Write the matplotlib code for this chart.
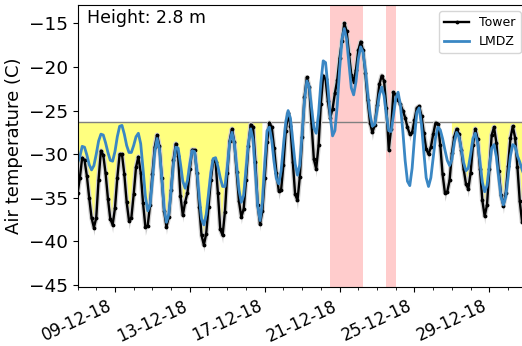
import matplotlib
matplotlib.use("Agg")
import matplotlib.pyplot as plt
import matplotlib.dates as mdates
import numpy as np
import pandas as pd

# Tower (3-hourly) and LMDZ air temperature at 2.8 m, 07-12-2018 -> 31-12-2018
times = pd.date_range("2018-12-07 00:00", "2018-12-31 00:00", freq="3h")

tower = [
    -34.5, -32.7, -30.4, -30.7, -32.5, -35.0, -37.3, -38.4,
    -37.3, -32.9, -29.6, -30.1, -32.2, -35.1, -37.4, -38.1,
    -36.2, -32.7, -30.0, -30.0, -32.3, -35.5, -37.6, -37.3,
    -34.6, -31.5, -30.3, -32.1, -35.6, -38.3, -38.2, -35.8,
    -32.3, -29.2, -27.8, -29.1, -32.7, -36.5, -38.3, -37.2,
    -34.1, -30.7, -28.8, -30.2, -34.8, -37.0, -35.5, -34.4,
    -31.7, -29.5, -29.5, -32.1, -36.0, -39.3, -40.4, -39.1,
    -36.0, -32.9, -30.7, -30.9, -34.5, -38.6, -39.3, -36.6,
    -32.2, -28.5, -27.1, -28.6, -32.0, -35.4, -37.2, -36.3,
    -33.0, -29.1, -26.6, -26.9, -30.9, -35.8, -38.0, -36.5,
    -32.7, -28.6, -26.4, -26.9, -29.3, -32.1, -34.2, -34.1,
    -31.2, -27.3, -25.3, -26.8, -30.9, -34.6, -35.3, -32.6,
    -28.0, -23.5, -21.2, -22.3, -26.4, -30.6, -31.7, -29.0,
    -24.2, -21.0, -21.4, -23.9, -25.8, -24.8, -23.0, -21.5,
    -19.0, -17.0, -15.0, -15.9, -18.5, -20.9, -21.7, -20.3,
    -18.1, -17.1, -18.1, -20.7, -23.8, -26.4, -27.5, -26.7,
    -24.4, -22.0, -21.0, -21.6, -24.7, -29.5, -27.1, -22.9,
    -23.2, -23.8, -24.3, -25.0, -25.8, -26.9, -27.7, -27.5,
    -26.1, -24.7, -24.5, -25.6, -27.6, -29.4, -30.0, -29.2,
    -27.7, -26.4, -26.5, -28.9, -32.3, -34.4, -34.3, -33.0,
    -29.9, -28.0, -27.1, -27.7, -29.5, -31.7, -33.4, -34.0,
    -32.1, -28.9, -27.1, -28.3, -31.7, -35.3, -37.1, -35.8,
    -31.7, -27.8, -26.9, -28.7, -31.9, -34.7, -35.9, -34.5,
    -31.4, -28.2, -26.8, -28.1, -31.5, -35.4, -37.8, -37.6,
    -34.5,
]

lmdz = [
    -31.0, -30.3, -29.1, -29.2, -30.1, -31.2, -31.8, -31.3,
    -30.0, -28.5, -27.7, -27.8, -28.7, -29.8, -30.7, -30.8,
    -29.7, -28.0, -26.8, -26.7, -27.7, -29.0, -29.8, -29.8,
    -29.0, -28.0, -27.6, -28.8, -31.7, -34.8, -36.5, -35.8,
    -33.0, -29.8, -28.2, -29.4, -32.7, -36.2, -37.8, -36.9,
    -34.2, -31.1, -29.2, -29.3, -31.1, -33.1, -33.9, -33.0,
    -31.1, -29.6, -29.7, -31.8, -34.9, -37.4, -38.1, -36.9,
    -34.5, -32.1, -30.5, -30.4, -31.4, -32.7, -33.7, -33.7,
    -31.5, -28.7, -27.5, -28.7, -31.4, -34.1, -35.5, -34.7,
    -31.8, -28.8, -27.1, -28.3, -32.0, -35.9, -37.6, -35.5,
    -31.1, -27.3, -26.9, -28.4, -30.9, -32.8, -33.4, -31.9,
    -29.0, -26.3, -25.0, -25.9, -28.5, -31.1, -32.4, -31.2,
    -27.6, -23.8, -21.6, -22.2, -24.6, -27.0, -27.6, -25.4,
    -21.8, -19.3, -19.5, -22.2, -25.7, -27.9, -27.3, -24.4,
    -20.3, -16.8, -15.6, -16.8, -19.6, -22.4, -23.2, -21.7,
    -19.1, -17.7, -18.3, -20.3, -23.0, -25.4, -26.8, -26.6,
    -25.0, -23.2, -22.3, -23.3, -25.5, -27.3, -27.4, -25.6,
    -23.6, -22.9, -24.4, -27.3, -30.7, -33.1, -33.6, -31.6,
    -28.1, -25.2, -24.7, -26.6, -29.8, -32.7, -33.7, -32.7,
    -30.4, -28.1, -26.9, -27.2, -28.2, -29.5, -30.7, -31.3,
    -30.6, -28.7, -27.5, -28.0, -29.4, -31.0, -31.9, -31.6,
    -30.0, -28.2, -27.6, -28.7, -31.0, -33.2, -34.3, -33.6,
    -31.4, -29.3, -28.9, -30.3, -32.7, -34.9, -35.8, -34.9,
    -32.6, -30.2, -28.9, -29.1, -30.2, -30.9, -31.8, -32.5,
    -32.3,
]

# lowest hourly values around the nightly minima (index in tower -> value)
tower_dips = {
    7: -39.3, 15: -39.0, 22: -38.6, 29: -39.3, 38: -39.2, 45: -37.8,
    54: -41.2, 62: -40.2, 70: -38.0, 78: -38.8, 86: -35.2, 94: -36.3,
    102: -32.6, 108: -26.8, 118: -22.5, 126: -28.4, 133: -30.6, 142: -28.5,
    150: -30.8, 157: -35.4, 167: -34.9, 174: -38.0, 182: -36.8, 190: -38.6,
}

threshold = -26.3
cold_periods = [("2018-12-07 00:00", "2018-12-16 23:59"),
                ("2018-12-27 00:00", "2018-12-31 00:00")]
warm_events = [("2018-12-20 12:00", "2018-12-22 06:00"),
               ("2018-12-23 12:00", "2018-12-24 00:00")]

tower = np.array(tower)
lmdz = np.array(lmdz)
tower_low = tower.copy()
for i, v in tower_dips.items():
    tower_low[i] = v

fig = plt.figure(figsize=(5.22, 3.46), dpi=100)
ax = fig.add_axes([0.1485, 0.1697, 0.8607, 0.8159])

for start, end in warm_events:
    ax.axvspan(pd.Timestamp(start), pd.Timestamp(end), color="red", alpha=0.2, lw=0)

mask = np.zeros(len(times), dtype=bool)
for start, end in cold_periods:
    mask |= (times >= pd.Timestamp(start)) & (times <= pd.Timestamp(end))
ax.fill_between(times, tower, threshold, where=mask, color="yellow", alpha=0.5, lw=0)
ax.axhline(threshold, color="gray", lw=1)

ax.fill_between(times, tower_low, tower, color="0.8", lw=0)
ax.plot(times, tower, color="0.82", lw=3.5)
ax.plot(times, tower, color="black", lw=1.7, marker=".", ms=3.5, label="Tower")
ax.plot(times, lmdz, color="#3a87c4", lw=2.0, label="LMDZ")

ax.set_xlim(pd.Timestamp("2018-12-07"), pd.Timestamp("2018-12-31"))
ax.set_ylim(-45.25, -12.9)
ax.set_yticks(np.arange(-45, -14, 5))
ax.xaxis.set_major_locator(mdates.DayLocator(bymonthday=[1, 5, 9, 13, 17, 21, 25, 29]))
ax.xaxis.set_minor_locator(mdates.DayLocator())
ax.xaxis.set_major_formatter(mdates.DateFormatter("%d-%m-%y"))
ax.tick_params(axis="y", labelsize=13.3)
ax.tick_params(axis="x", labelsize=12)
for lab in ax.get_xticklabels():
    lab.set_rotation(25)
    lab.set_ha("right")

ax.set_ylabel("Air temperature (C)", fontsize=13)
ax.text(0.02, 0.985, "Height: 2.8 m", transform=ax.transAxes, fontsize=12.5, va="top", ha="left")
ax.legend(loc="upper right", fontsize=9)

fig.savefig("out.png", dpi=100)
